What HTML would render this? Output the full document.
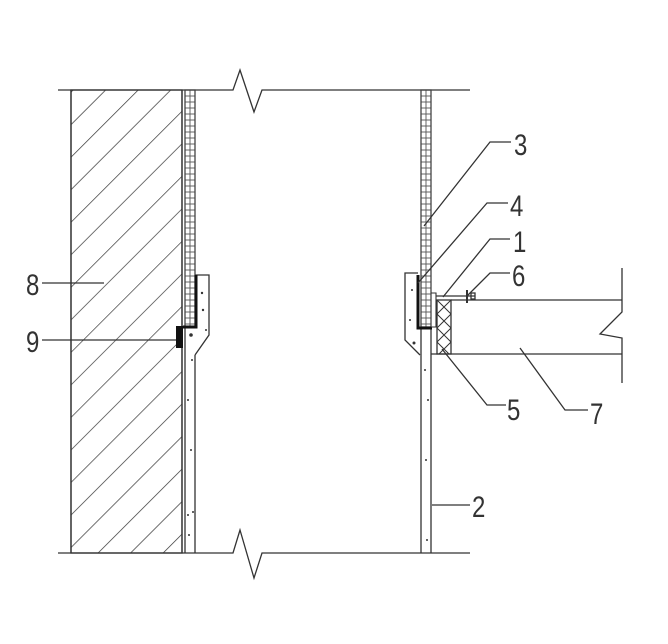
<!DOCTYPE html>
<html><head><meta charset="utf-8"><style>
html,body{margin:0;padding:0;background:#fff;}
svg{display:block;}
text{font-family:"Liberation Sans",sans-serif;font-size:30px;fill:#333;}
</style></head><body>
<svg width="668" height="644" viewBox="0 0 668 644" xmlns="http://www.w3.org/2000/svg">
<defs>
<pattern id="hatch" patternUnits="userSpaceOnUse" width="23" height="23" patternTransform="rotate(45)">
<line x1="0" y1="0" x2="0" y2="23" stroke="#333" stroke-width="1.4"/>
</pattern>
<pattern id="mesh" patternUnits="userSpaceOnUse" width="10" height="6" x="185" y="0">
<rect x="0" y="0" width="10" height="6" fill="none" stroke="#555" stroke-width="0.9"/>
<line x1="5" y1="0" x2="5" y2="6" stroke="#555" stroke-width="0.9"/>
</pattern>
<pattern id="mesh2" patternUnits="userSpaceOnUse" width="10" height="6" x="421" y="0">
<rect x="0" y="0" width="10" height="6" fill="none" stroke="#555" stroke-width="0.9"/>
<line x1="5" y1="0" x2="5" y2="6" stroke="#555" stroke-width="0.9"/>
</pattern>
<pattern id="xh" patternUnits="userSpaceOnUse" width="14" height="14" x="437" y="300">
<path d="M0 0L14 14M14 0L0 14" stroke="#333" stroke-width="1"/>
</pattern>
</defs>
<g stroke="#333" fill="none" stroke-width="1.3">
<polyline points="58,90 233,90 240,70 254,112 262,90 470,90"/>
<polyline points="58,553 233,553 240,530 254,578 262,553 470,553"/>
<rect x="71" y="90" width="111" height="463" fill="url(#hatch)"/>
<line x1="71" y1="90" x2="71" y2="553"/>
<line x1="182" y1="90" x2="182" y2="553"/>
<rect x="185" y="90" width="10" height="237" fill="url(#mesh)" stroke="#444"/>
<line x1="185" y1="327" x2="185" y2="553"/>
<line x1="195" y1="355" x2="195" y2="553"/>
<polyline points="195,275 209,275 209,335 195,355"/>
<polyline points="196,275 196,327 183,327" stroke="#111" stroke-width="3"/>
<rect x="176" y="326" width="7" height="22" fill="#111" stroke="none"/>
<rect x="421" y="90" width="10" height="237" fill="url(#mesh2)" stroke="#444"/>
<line x1="421" y1="327" x2="421" y2="553"/>
<line x1="431" y1="327" x2="431" y2="553"/>
<polyline points="418,273 405,273 405,340 420,355"/>
<polyline points="418,275 418,328 432,328" stroke="#111" stroke-width="3"/>
<polyline points="431,327 436,327 436,293 431,293" stroke-width="1.1"/>
<line x1="436" y1="296" x2="475" y2="296"/>
<rect x="471" y="293" width="4" height="6"/>
<line x1="467" y1="290" x2="467" y2="303" stroke-width="2"/>
<rect x="437" y="300" width="14" height="54" fill="url(#xh)"/>
<line x1="451" y1="300" x2="622" y2="300"/>
<line x1="431" y1="354" x2="622" y2="354"/>
<polyline points="622,268 622,312 600,334 622,338 622,383"/>
<polyline points="424,226 490,142 511,142"/>
<polyline points="418,283 487,203 508,203"/>
<polyline points="443,297 490,239 510,239"/>
<polyline points="467,296 490,273 510,273"/>
<polyline points="442,349 487,405 506,405"/>
<polyline points="520,348 565,410 588,410"/>
<line x1="432" y1="505" x2="470" y2="505"/>
<line x1="42" y1="283" x2="104" y2="283"/>
<line x1="42" y1="340" x2="176" y2="340"/>
</g>
<g fill="#333">
<circle cx="202" cy="293" r="1.2"/><circle cx="203" cy="310" r="1.2"/><circle cx="191" cy="335" r="1.8"/>
<circle cx="206" cy="330" r="1"/><circle cx="192" cy="360" r="1"/><circle cx="188" cy="400" r="1"/>
<circle cx="191" cy="450" r="1"/><circle cx="188" cy="515" r="1"/><circle cx="189" cy="535" r="1"/><circle cx="193" cy="512" r="1"/>
<circle cx="412" cy="290" r="1"/><circle cx="410" cy="320" r="1"/><circle cx="414" cy="343" r="1.5"/>
<circle cx="425" cy="370" r="1"/><circle cx="428" cy="400" r="1"/><circle cx="426" cy="460" r="1"/><circle cx="427" cy="540" r="1"/>
</g>
<g>
<text x="514" y="155" transform="translate(514 0) scale(0.8 1) translate(-514 0)">3</text>
<text x="510" y="216" transform="translate(510 0) scale(0.8 1) translate(-510 0)">4</text>
<text x="513" y="252" transform="translate(513 0) scale(0.8 1) translate(-513 0)">1</text>
<text x="512" y="286" transform="translate(512 0) scale(0.8 1) translate(-512 0)">6</text>
<text x="507" y="420" transform="translate(507 0) scale(0.8 1) translate(-507 0)">5</text>
<text x="590" y="424" transform="translate(590 0) scale(0.8 1) translate(-590 0)">7</text>
<text x="472" y="517" transform="translate(472 0) scale(0.8 1) translate(-472 0)">2</text>
<text x="26" y="295" transform="translate(26 0) scale(0.8 1) translate(-26 0)">8</text>
<text x="26" y="352" transform="translate(26 0) scale(0.8 1) translate(-26 0)">9</text>
</g>
</svg>
</body></html>
